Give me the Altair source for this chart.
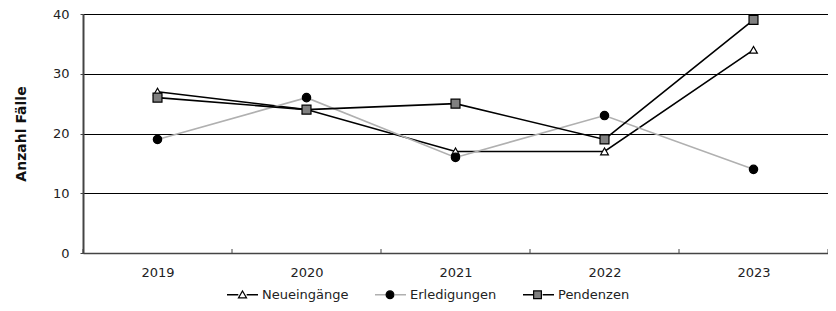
import altair as alt
import pandas as pd

years = [2019, 2020, 2021, 2022, 2023]
series_names = ["Neueingänge", "Erledigungen", "Pendenzen"]
neueingaenge = [27, 24, 17, 17, 34]
erledigungen = [19, 26, 16, 23, 14]
pendenzen = [26, 24, 25, 19, 39]

rows = []
for name, vals in zip(series_names, [neueingaenge, erledigungen, pendenzen]):
    for y, v in zip(years, vals):
        rows.append({"Jahr": y, "Wert": v, "series": name})
df = pd.DataFrame(rows)

bounds = pd.DataFrame({"b": [y - 0.5 for y in years] + [years[-1] + 0.5]})
legend_df = pd.DataFrame({"Serie": series_names, "Serie2": series_names})

W, H = 745, 239
FONT = "DejaVu Sans"

x_scale = alt.Scale(domain=[years[0] - 0.5, years[-1] + 0.5], nice=False, zero=False)
y_scale = alt.Scale(domain=[0, 40], nice=False)

x_enc = alt.X("Jahr:Q", scale=x_scale,
              axis=alt.Axis(values=years, format="d", title=None, tickSize=0,
                            labelPadding=13, labelFlush=False, grid=False,
                            domainColor="#444444", domainWidth=1.5,
                            labelFontSize=13, labelColor="#222222", labelFont=FONT))
y_enc = alt.Y("Wert:Q", scale=y_scale,
              axis=alt.Axis(values=[0, 10, 20, 30, 40], title="Anzahl Fälle",
                            tickSize=3, tickColor="#444444", labelPadding=11,
                            grid=True, gridColor="#000000", gridWidth=1,
                            domainColor="#444444", domainWidth=2,
                            labelFontSize=13, labelColor="#222222", labelFont=FONT,
                            titleFontSize=14, titleFont=FONT, titleFontWeight="bold",
                            titleColor="#111111", titlePadding=24))

stroke_scale = alt.Scale(domain=series_names, range=["#000000", "#b0b0b0", "#000000"])

lines = alt.Chart(df).mark_line(strokeWidth=1.6).encode(
    x=x_enc, y=y_enc,
    stroke=alt.Stroke("series:N", scale=stroke_scale, legend=None),
    detail="series:N",
)

points = alt.Chart(df).mark_point(filled=False, strokeWidth=1.2, opacity=1).encode(
    x=alt.X("Jahr:Q"), y=alt.Y("Wert:Q"),
    shape=alt.Shape("series:N", scale=alt.Scale(domain=series_names,
                    range=["triangle-up", "circle", "square"]), legend=None),
    fill=alt.Fill("series:N", scale=alt.Scale(domain=series_names,
                  range=["#ffffff", "#000000", "#808080"]), legend=None),
    color=alt.Color("series:N", scale=alt.Scale(domain=series_names,
                    range=["#000000", "#000000", "#000000"]), legend=None),
    size=alt.Size("series:N", scale=alt.Scale(domain=series_names,
                  range=[60, 80, 75]), legend=None),
    order=alt.Order("order:Q"),
).transform_calculate(
    order="indexof(['Neueingänge','Erledigungen','Pendenzen'], datum.series)"
)

ticks = alt.Chart(bounds).mark_rule(color="#444444", strokeWidth=1).encode(
    x=alt.X("b:Q"), y=alt.value(H), y2=alt.value(H - 4)
)

LEG_X, LEG_Y = 143, 264
PAD1 = 23
LABEL_W = 86.5
common_legend = dict(title=None, orient="none", legendX=LEG_X, legendY=LEG_Y,
                     direction="horizontal", columns=3, symbolSize=961,
                     labelFontSize=13, labelFont=FONT, labelColor="#222222",
                     labelOffset=3, padding=0, gridAlign="all")

line_paths = ["M-1,0H-0.27M0.27,0H1"] * 3
marker_paths = [
    "M-1,0M1,0M0,-0.24L0.26,0.2L-0.26,0.2Z",
    "M-1,0M1,0M-0.25,0A0.25,0.25 0 1,0 0.25,0A0.25,0.25 0 1,0 -0.25,0Z",
    "M-1,0M1,0M-0.25,-0.25H0.25V0.25H-0.25Z",
]

legend_lines = alt.Chart(legend_df).mark_point(filled=False, strokeWidth=1.5, opacity=1).encode(
    x=alt.value(0), y=alt.value(-200),
    shape=alt.Shape("Serie:N", scale=alt.Scale(domain=series_names, range=line_paths),
                    legend=alt.Legend(**common_legend, columnPadding=PAD1,
                                      symbolStrokeWidth=1.5)),
    stroke=alt.Stroke("Serie:N", scale=alt.Scale(domain=series_names,
                      range=["#000000", "#b0b0b0", "#000000"])),
)

legend_markers = alt.Chart(legend_df).mark_point(filled=False, strokeWidth=1.2, opacity=1).encode(
    x=alt.value(0), y=alt.value(-200),
    shape=alt.Shape("Serie2:N", scale=alt.Scale(domain=series_names, range=marker_paths),
                    legend=alt.Legend(**common_legend, columnPadding=PAD1 + LABEL_W,
                                      labelExpr="''", symbolStrokeWidth=1.2)),
    stroke=alt.Stroke("Serie2:N", scale=alt.Scale(domain=series_names,
                      range=["#000000", "#000000", "#000000"])),
    fill=alt.Fill("Serie2:N", scale=alt.Scale(domain=series_names,
                  range=["#ffffff", "#000000", "#808080"])),
)

chart = alt.layer(lines, ticks, points, legend_lines, legend_markers).resolve_scale(
    shape="independent", fill="independent", stroke="independent",
    color="independent", size="independent",
).resolve_legend(
    shape="independent", fill="independent", stroke="independent",
).properties(
    width=W, height=H,
    autosize=alt.AutoSizeParams(type="none"),
    padding={"left": 75, "top": 6, "right": 0, "bottom": 50},
).configure_view(stroke=None).configure(background="white")

chart.save("out.html", embed_options={"renderer": "svg", "actions": False})
